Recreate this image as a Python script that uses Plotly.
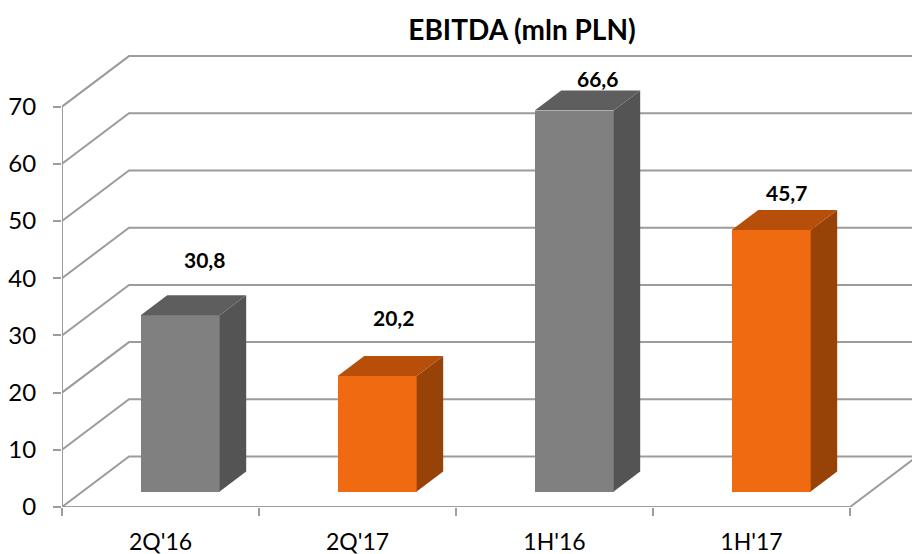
import plotly.graph_objects as go

categories = ["2Q'16", "2Q'17", "1H'16", "1H'17"]
values = [30.8, 20.2, 66.6, 45.7]
value_labels = ["30,8", "20,2", "66,6", "45,7"]
y_ticks = [0, 10, 20, 30, 40, 50, 60, 70]
front_colors = ["#808080", "#EF6A10", "#808080", "#EF6A10"]
side_colors = ["#545454", "#974207", "#545454", "#974207"]
top_colors = ["#5E5E5E", "#B74F0A", "#5E5E5E", "#B74F0A"]
label_gaps_px = [56, 58, 32, 38]
label_nudges_px = [11, 3, 10, 2]

# chart geometry in axis units
WIDTH, HEIGHT = 912, 554
L, B = 62, 47
PX_X, PX_Y = 197.0, 5.72
X_MAX = (WIDTH - L) / PX_X
Y_MAX = (HEIGHT - B) / PX_Y
WALL_DX, WALL_DY = 67 / PX_X, 50.5 / PX_Y
BAR_DX, BAR_DY = 26.5 / PX_X, 20 / PX_Y
BAR_BASE = 15.5 / PX_Y
BAR_W = 79 / PX_X
BAR_C = 0.6
GRID = "#9C9C9C"

fig = go.Figure()
xc = [i + BAR_C for i in range(len(categories))]

fig.add_trace(go.Bar(
    x=xc, y=values, base=BAR_BASE, width=BAR_W,
    marker=dict(color=front_colors, line=dict(width=0)),
    hoverinfo="skip", showlegend=False,
))

for x, v, side, top in zip(xc, values, side_colors, top_colors):
    x0, x1 = x - BAR_W / 2, x + BAR_W / 2
    y0, y1 = BAR_BASE, BAR_BASE + v
    fig.add_trace(go.Scatter(
        x=[x1, x1 + BAR_DX, x1 + BAR_DX, x1, x1],
        y=[y0, y0 + BAR_DY, y1 + BAR_DY, y1, y0],
        mode="lines", fill="toself", fillcolor=side, line=dict(width=0),
        hoverinfo="skip", showlegend=False,
    ))
    fig.add_trace(go.Scatter(
        x=[x0, x0 + BAR_DX, x1 + BAR_DX, x1, x0],
        y=[y1, y1 + BAR_DY, y1 + BAR_DY, y1, y1],
        mode="lines", fill="toself", fillcolor=top, line=dict(width=0),
        hoverinfo="skip", showlegend=False,
    ))

shapes = []
line = dict(color=GRID, width=2)
n = len(categories)
for t in y_ticks:
    shapes.append(dict(
        type="path", layer="below", line=line, xref="x", yref="y",
        path=f"M 0 {t} L {WALL_DX} {t + WALL_DY} L {X_MAX} {t + WALL_DY}",
    ))
shapes.append(dict(type="line", layer="below", line=line, xref="x", yref="y",
                   x0=0, x1=0, y0=0, y1=y_ticks[-1]))
shapes.append(dict(type="line", layer="below", line=line, xref="x", yref="y",
                   x0=0, x1=n, y0=0, y1=0))
shapes.append(dict(type="line", layer="below", line=line, xref="x", yref="y",
                   x0=n, x1=n + WALL_DX, y0=0, y1=WALL_DY))

annotations = [
    dict(x=x + BAR_DX / 2, y=BAR_BASE + v, text=f"<b>{t}</b>", showarrow=False,
         yshift=g, xshift=s, xanchor="center", yanchor="middle",
         font=dict(family="Lato", size=21, color="#000000"))
    for x, v, t, g, s in zip(xc, values, value_labels, label_gaps_px, label_nudges_px)
]

fig.update_layout(
    width=WIDTH, height=HEIGHT,
    margin=dict(l=L, r=0, t=0, b=B, pad=0),
    paper_bgcolor="#FFFFFF", plot_bgcolor="#FFFFFF",
    bargap=0, showlegend=False,
    shapes=shapes, annotations=annotations,
    title=dict(text="<b>EBITDA (mln PLN)</b>", x=522 / WIDTH, xanchor="center",
               y=1 - 30 / HEIGHT, yanchor="middle",
               font=dict(family="Lato", size=28, color="#000000")),
    font=dict(family="Lato", color="#000000"),
    xaxis=dict(
        range=[0, X_MAX], showgrid=False, zeroline=False, showline=False,
        tickmode="array", tickvals=[i + 0.5 for i in range(n)], ticktext=categories,
        ticks="", ticklabelstandoff=19, tickfont=dict(family="Lato", size=23),
        minor=dict(tickmode="array", tickvals=list(range(n + 1)), ticks="outside",
                   ticklen=8, tickwidth=2, tickcolor=GRID),
    ),
    yaxis=dict(
        range=[0, Y_MAX], showgrid=False, zeroline=False, showline=False,
        tickmode="array", tickvals=y_ticks, ticks="outside", ticklen=8, tickwidth=2,
        tickcolor=GRID, ticklabelstandoff=12, tickfont=dict(family="Lato", size=24),
    ),
)

fig.write_html("out.html", config={"displayModeBar": False},
               post_script="document.body.style.margin='0';document.documentElement.style.overflow='hidden';")
